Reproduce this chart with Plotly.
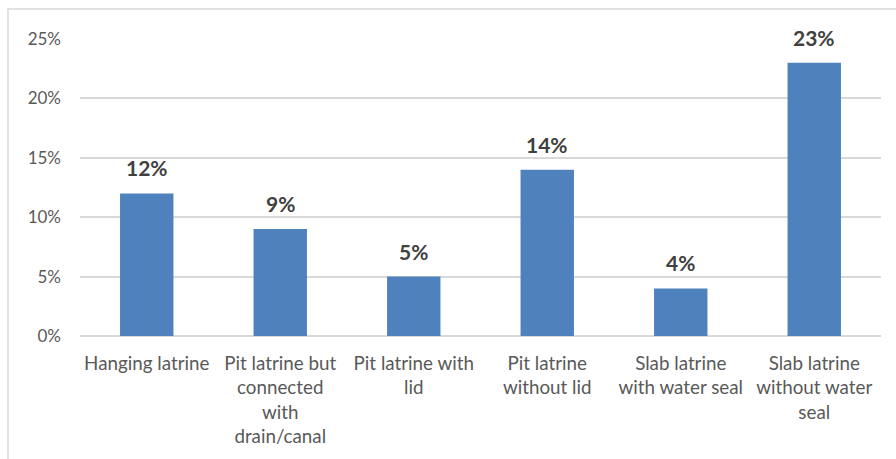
import plotly.graph_objects as go

categories = ["Hanging latrine", "Pit latrine but<br>connected<br>with<br>drain/canal",
              "Pit latrine with<br>lid", "Pit latrine<br>without lid",
              "Slab latrine<br>with water seal", "Slab latrine<br>without water<br>seal"]
values = [12, 9, 5, 14, 4, 23]
labels = [f"{v}%" for v in values]
yticks = [0, 5, 10, 15, 20, 25]
yticklabels = [f"{t}%" for t in yticks]

W, H = 896, 459
ML, MR, MT, MB = 80, 15, 39, 123
pw, ph = W - ML - MR, H - MT - MB

font_family = "Lato, 'Open Sans', sans-serif"

xs = list(range(len(categories)))
fig = go.Figure(go.Bar(
    x=xs, y=values,
    marker=dict(color="#4F81BD", line=dict(width=0)),
    cliponaxis=False, width=0.4,
))

for x, v, t in zip(xs, values, labels):
    fig.add_annotation(x=x, y=v, text=t, showarrow=False, xref="x", yref="y",
                       yanchor="bottom", yshift=11,
                       font=dict(family=font_family, size=21, color="#404040", weight="bold"))

fig.update_layout(
    width=W, height=H,
    margin=dict(l=ML, r=MR, t=MT, b=MB),
    paper_bgcolor="white", plot_bgcolor="white",
    showlegend=False,
    font=dict(family=font_family, color="#595959", size=18),
    xaxis=dict(tickmode="array", tickvals=xs, ticktext=categories,
               range=[-0.5, len(categories) - 0.5], showgrid=False, showline=False,
               zeroline=False, ticks="", ticklabelstandoff=14,
               tickfont=dict(size=18.8, color="#595959")),
    yaxis=dict(range=[0, 25], tickmode="array", tickvals=yticks, ticktext=yticklabels,
               showgrid=True, gridcolor="#D9D9D9", gridwidth=1.5, zeroline=True,
               zerolinecolor="#D9D9D9", zerolinewidth=1.5, showline=False,
               ticks="", ticklabelstandoff=18, tickfont=dict(size=17, color="#595959")),
)

# chart border (cropped on right/bottom)
x0 = (8 - ML) / pw
y1 = (H - MB - 9) / ph
fig.add_shape(type="rect", xref="paper", yref="paper", x0=x0, x1=1.2, y0=-1, y1=y1,
              line=dict(color="#D9D9D9", width=1.5), fillcolor="rgba(0,0,0,0)", layer="below")

fig.write_html("out.html")
